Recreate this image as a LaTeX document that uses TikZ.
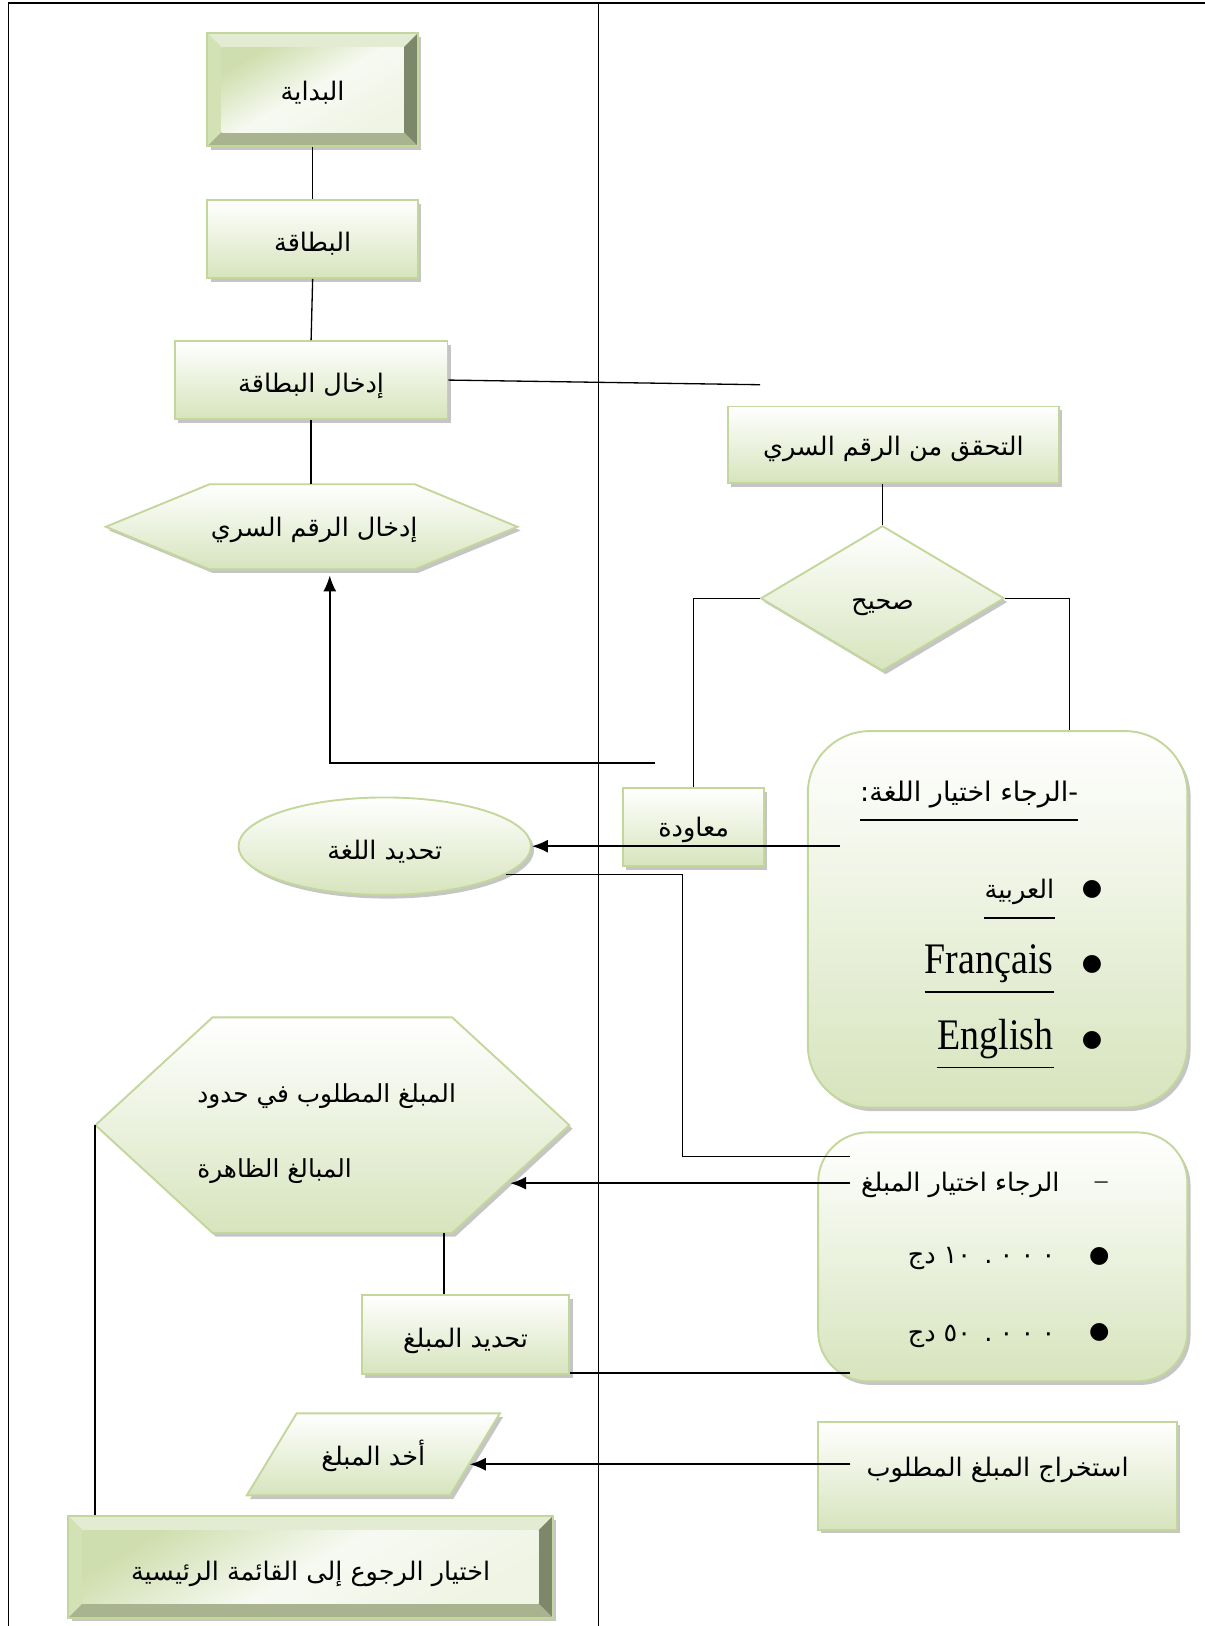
\documentclass[tikz,border=0pt]{standalone}
\usepackage{fontspec}
\usepackage{graphicx}
\setmainfont{Liberation Serif}
\newfontfamily\arfont[Script=Arabic]{DejaVu Sans}
\TeXXeTstate=1
\usetikzlibrary{shapes.geometric,shadows,calc,arrows.meta}
\newcommand\AR[1]{{\arfont #1}}
\newcommand\ARs[2]{\raisebox{#1}[\height][\depth]{\arfont #2}}
\newcommand\Lat[1]{\scalebox{1}[1.15]{#1}}
\definecolor{gborder}{HTML}{C3D69B}
\definecolor{gfill}{HTML}{D7E4BD}
\definecolor{gdark}{HTML}{7D8769}
\definecolor{gmid}{HTML}{A9B38F}
\definecolor{glight}{HTML}{E3ECD2}
\definecolor{gleft}{HTML}{D3E2B4}
\definecolor{gface}{HTML}{CFDEAE}
\tikzset{
  sz/.style 2 args={minimum width={(#1)*0.025cm}, minimum height={(#2)*0.025cm}},
  shadowed/.style={drop shadow={shadow xshift=2.2pt, shadow yshift=-2.5pt, fill=black!45, opacity=0.5}},
  gshape/.style={draw=gborder, line width=1.3pt, top color=white, bottom color=gfill, shadowed},
  gbox/.style={gshape, rectangle, inner sep=0pt, font=\fontsize{17.5}{20}\selectfont},
  gbevel/.style={draw=gborder, line width=1.3pt, fill=gfill, shadowed, rectangle, inner sep=0pt,
    font=\fontsize{17.5}{20}\selectfont,
    path picture={
      \fill[glight] (path picture bounding box.north west) -- (path picture bounding box.north east)
        -- ([shift={(-0.34cm,-0.34cm)}]path picture bounding box.north east)
        -- ([shift={(0.34cm,-0.34cm)}]path picture bounding box.north west) -- cycle;
      \fill[gleft] (path picture bounding box.north west)
        -- ([shift={(0.34cm,-0.34cm)}]path picture bounding box.north west)
        -- ([shift={(0.34cm,0.34cm)}]path picture bounding box.south west)
        -- (path picture bounding box.south west) -- cycle;
      \fill[gdark] (path picture bounding box.north east) -- (path picture bounding box.south east)
        -- ([shift={(-0.34cm,0.34cm)}]path picture bounding box.south east)
        -- ([shift={(-0.34cm,-0.34cm)}]path picture bounding box.north east) -- cycle;
      \fill[gmid] (path picture bounding box.south west) -- (path picture bounding box.south east)
        -- ([shift={(-0.34cm,0.34cm)}]path picture bounding box.south east)
        -- ([shift={(0.34cm,0.34cm)}]path picture bounding box.south west) -- cycle;
      \shade[left color=gface, right color=white!60!gfill, middle color=white!80!gfill, shading angle=30]
        ([shift={(0.34cm,-0.34cm)}]path picture bounding box.north west)
        rectangle ([shift={(-0.34cm,0.34cm)}]path picture bounding box.south east);
    }},
  txt/.style={inner sep=0pt, font=\fontsize{17.5}{20}\selectfont},
  lat/.style={inner sep=0pt, font=\fontsize{26}{30}\selectfont},
  bul/.style={inner sep=0pt, font=\fontsize{16}{18}\arfont},
  link/.style={draw=black, line width=0.9pt},
  arrowlink/.style={draw=black, line width=1.3pt, -{Latex[length=11pt,width=9pt]}},
  ul/.style={draw=black, line width=1.1pt},
}
\begin{document}
\begin{tikzpicture}[x=0.025cm,y=-0.025cm]
\useasboundingbox (0,0) rectangle (1162,1568);

% frame
\draw[line width=0.9pt] (8,1568) -- (8,3) -- (1162,3);
\draw[line width=0.9pt] (577,3) -- (577,1568);

% left column
\node[gbevel, sz={203}{109}] (start) at (301.5,86.5) {\ARs{-2pt}{\beginR البداية\endR}};
\node[gbox, sz={203}{75}] (card) at (301.5,230.5) {\ARs{-3pt}{\beginR البطاقة\endR}};
\node[gbox, sz={263}{75}] (insert) at (300,366.5) {\ARs{-4pt}{\beginR إدخال البطاقة\endR}};
\path[gshape] (102,508) -- (202,467) -- (400,467) -- (499,508) -- (400,549) -- (202,549) -- cycle;
\node[txt, sz={198}{82}] (pin) at (303,508) {\ARs{-2pt}{\beginR إدخال الرقم السري\endR}};

\node[gshape, ellipse, inner sep=0pt, sz={282}{94}, font=\fontsize{17.5}{20}\selectfont] (lang) at (371,816) {\ARs{-4pt}{\beginR تحديد اللغة\endR}};

\path[gshape] (92,1085) -- (205,981) -- (436,981) -- (549,1085) -- (436,1189) -- (205,1189) -- cycle;
\node[sz={457}{208}, inner sep=0pt] (hex2) at (320.5,1085) {};
\node[txt, anchor=west, font=\fontsize{17}{20}\selectfont] (h2a) at (190,1057) {\AR{\beginR المبلغ المطلوب في حدود\endR}};
\node[txt, anchor=west, font=\fontsize{17}{20}\selectfont] (h2b) at (190,1129) {\AR{\beginR المبالغ الظاهرة\endR}};

\node[gbox, sz={200}{76}] (amt) at (449,1287) {\ARs{-4pt}{\beginR تحديد المبلغ\endR}};

\path[gshape] (286,1363) -- (482,1363) -- (434,1442) -- (238,1442) -- cycle;
\node[txt] (take) at (360,1403) {\ARs{-1pt}{\beginR أخد المبلغ\endR}};

\node[gbevel, sz={467}{98}] (back) at (299.5,1511) {\ARs{-5pt}{\beginR اختيار الرجوع إلى القائمة الرئيسية\endR}};

% right column
\node[gbox, sz={319}{74}] (verify) at (861.5,429) {\ARs{-3pt}{\beginR التحقق من الرقم السري\endR}};
\node[gshape, diamond, inner sep=0pt, aspect=1.68, sz={235}{140}, font=\fontsize{17.5}{20}\selectfont] (ok) at (851,577) {\ARs{-6pt}{\beginR صحيح\endR}};
\node[gbox, sz={136}{75}] (retry) at (669,797.5) {\ARs{-2pt}{\beginR معاودة\endR}};

\node[gshape, rectangle, rounded corners=1.5cm, sz={366}{363}] (langbox) at (962,886.5) {};
\node[txt, anchor=east, font=\fontsize{18.5}{21}\selectfont] (lt) at (1040,766) {\AR{\beginR -الرجاء اختيار اللغة:\endR}};
\draw[ul] ([yshift=-17.5pt]lt.west) -- ([yshift=-17.5pt]lt.east);
\node[txt, anchor=east] (l1) at (1017,860) {\AR{\beginR العربية\endR}};
\draw[ul] ([yshift=-18pt]l1.west) -- ([yshift=-18pt]l1.east);
\node[lat, anchor=east] (l2) at (1016,929) {\Lat{Français}};
\draw[ul] ([yshift=-19.5pt]l2.west) -- ([yshift=-19.5pt]l2.east);
\node[lat, anchor=east] (l3) at (1016,1002) {\Lat{English}};
\draw[ul] ([yshift=-19.5pt]l3.west) -- ([yshift=-19.5pt]l3.east);
\node[bul] (b1) at (1053,858) {●};
\node[bul] (b2) at (1053,930) {●};
\node[bul] (b3) at (1053,1003) {●};

\node[gshape, rectangle, rounded corners=1.2cm, sz={356}{240}] (amountbox) at (967,1212) {};
\node[txt] (dash) at (1062,1143) {–};
\node[txt, anchor=east] (at) at (1022,1143) {\AR{\beginR الرجاء اختيار المبلغ\endR}};
\node[bul] (b4) at (1060,1212) {●};
\node[bul] (b5) at (1060,1285) {●};
\node[txt, anchor=east] (a1) at (1018,1214) {\AR{\beginR\beginL ١٠\hspace{9pt}.\hspace{5pt}٠\hspace{5pt}٠\hspace{5pt}٠\endL{} دج\endR}};
\node[txt, anchor=east] (a2) at (1018,1289) {\AR{\beginR\beginL ٥٠\hspace{9pt}.\hspace{5pt}٠\hspace{5pt}٠\hspace{5pt}٠\endL{} دج\endR}};

\node[gbox, sz={346}{104}] (extract) at (962,1423) {\ARs{4pt}{\beginR استخراج المبلغ المطلوب\endR}};

% connectors
\draw[link] (start.south) -- (card.north);
\draw[link] (card.south) -- (insert.north);
\draw[link] (insert.south) -- (pin.north -| insert.south);
\coordinate (c1) at (733,371);
\draw[link] (insert.east) -- (c1);
\draw[link] (verify.south -| ok.north) -- (ok.north);
\draw[link] (ok.west) -| (retry.north);
\draw[link] (ok.east) -| ([xshift=1.725cm]langbox.north);
\coordinate (r1) at (632,736);
\draw[arrowlink, shorten >=4pt] (r1) -| ([xshift=0.375cm]pin.south);
\coordinate (c3) at (810,816);
\draw[arrowlink] (c3) -- (lang.east);
\coordinate (k1) at (658,1115);
\coordinate (c4) at (820,1115);
\draw[link] (lang.-13) -| (k1) -- (c4);
\coordinate (c6) at (820,1141);
\coordinate (h2e) at (492,1141);
\draw[arrowlink] (c6) -- (h2e);
\path ([xshift=2.6875cm]hex2.south) coordinate (hb);
\draw[link] (hb) -- (hb |- amt.north);
\coordinate (c8) at (820,1323);
\path ([yshift=0.05cm]amt.south east) coordinate (ase);
\draw[link] (ase) -- (ase -| c8);
\coordinate (c7) at (820,1412);
\coordinate (tk) at (453,1412);
\draw[arrowlink] (c7) -- (tk);
\draw[link] (hex2.west) -- (hex2.west |- back.north);
\end{tikzpicture}
\end{document}
